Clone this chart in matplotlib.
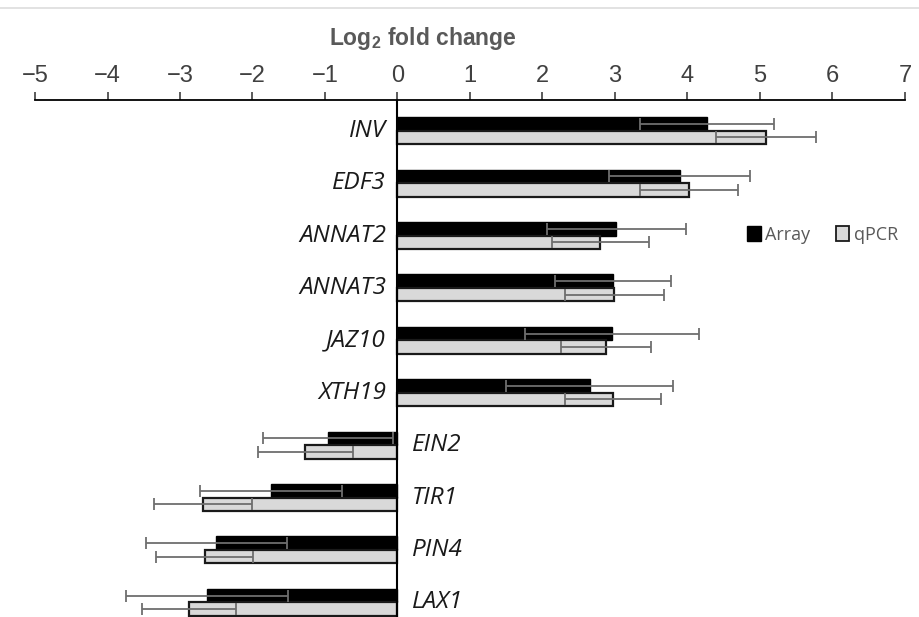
import matplotlib
matplotlib.use("Agg")
import matplotlib.pyplot as plt
import numpy as np
from matplotlib.patches import Patch
from matplotlib.lines import Line2D

plt.rcParams["mathtext.default"] = "regular"

genes = ["INV", "EDF3", "ANNAT2", "ANNAT3", "JAZ10", "XTH19", "EIN2", "TIR1", "PIN4", "LAX1"]
array_vals = [4.27, 3.89, 3.02, 2.97, 2.96, 2.65, -0.96, -1.74, -2.50, -2.63]
array_err = [0.92, 0.97, 0.96, 0.80, 1.20, 1.15, 0.90, 0.98, 0.97, 1.12]
qpcr_vals = [5.08, 4.02, 2.80, 2.99, 2.88, 2.97, -1.27, -2.68, -2.66, -2.88]
qpcr_err = [0.69, 0.67, 0.67, 0.68, 0.62, 0.66, 0.65, 0.68, 0.67, 0.65]
xticks = [-5, -4, -3, -2, -1, 0, 1, 2, 3, 4, 5, 6, 7]

fig = plt.figure(figsize=(9.2, 6.17), dpi=100)
ax = fig.add_axes([35/920, 0, 870/920, 1 - 100/617])

y = np.arange(len(genes))
h = 0.258
ecol = "#6e6e6e"
ax.barh(y - h/2, array_vals, height=h, color="black", edgecolor="black", linewidth=1.0, zorder=2)
ax.barh(y + h/2, qpcr_vals, height=h, color="#d9d9d9", edgecolor="#1a1a1a", linewidth=1.6, zorder=2)
ax.errorbar(array_vals, y - h/2, xerr=array_err, fmt="none", ecolor=ecol, elinewidth=1.3, capsize=4.5, capthick=1.3, zorder=3)
ax.errorbar(qpcr_vals, y + h/2, xerr=qpcr_err, fmt="none", ecolor=ecol, elinewidth=1.3, capsize=4.5, capthick=1.3, zorder=3)

ax.set_xlim(-5, 7)
ax.set_ylim(9.28, -0.586)
ax.axvline(0, color="black", linewidth=1.5, zorder=4)

for sp in ["right", "bottom", "left"]:
    ax.spines[sp].set_visible(False)
ax.spines["top"].set_linewidth(1.3)
ax.xaxis.set_ticks_position("top")
ax.xaxis.set_label_position("top")
ax.set_xticks(xticks)
ax.set_xticklabels([("\u2212" + str(-t)) if t < 0 else str(t) for t in xticks],
                   family=["Liberation Sans Narrow", "Liberation Sans", "DejaVu Sans"], fontsize=17, color="#404040")
ax.tick_params(axis="x", direction="out", length=6, width=1.2, pad=3, colors="#404040")
ax.tick_params(axis="x", labelcolor="#404040")
ax.set_yticks([])
ax.set_xlabel("Log$_2$ fold change", fontsize=16.5, fontweight="bold", color="#595959",
              family=["Liberation Sans", "DejaVu Sans"], labelpad=15)
ax.xaxis.label.set_x((423 - 35) / 870)

for yi, g, v in zip(y, genes, array_vals):
    if v >= 0:
        ax.text(-0.16, yi, g, ha="right", va="center", fontsize=17.5, style="italic",
                family=["Open Sans", "DejaVu Sans"], color="#1a1a1a")
    else:
        ax.text(0.2, yi, g, ha="left", va="center", fontsize=17.5, style="italic",
                family=["Open Sans", "DejaVu Sans"], color="#1a1a1a")

handles = [Patch(facecolor="black", edgecolor="black", linewidth=1.0, label="Array"),
           Patch(facecolor="#d9d9d9", edgecolor="#1a1a1a", linewidth=1.3, label="qPCR")]
leg = fig.legend(handles=handles, ncol=2, frameon=False, loc="center left",
                 bbox_to_anchor=(731/920, 1 - 235/617), handlelength=0.75, handleheight=0.9,
                 handletextpad=0.25, columnspacing=1.4,
                 prop={"family": ["Open Sans", "DejaVu Sans"], "size": 13})
for t in leg.get_texts():
    t.set_color("#595959")

fig.add_artist(Line2D([0, 1], [1 - 8/617, 1 - 8/617], transform=fig.transFigure, color="#dddddd", linewidth=1.2))

fig.savefig("out.png", dpi=100)
